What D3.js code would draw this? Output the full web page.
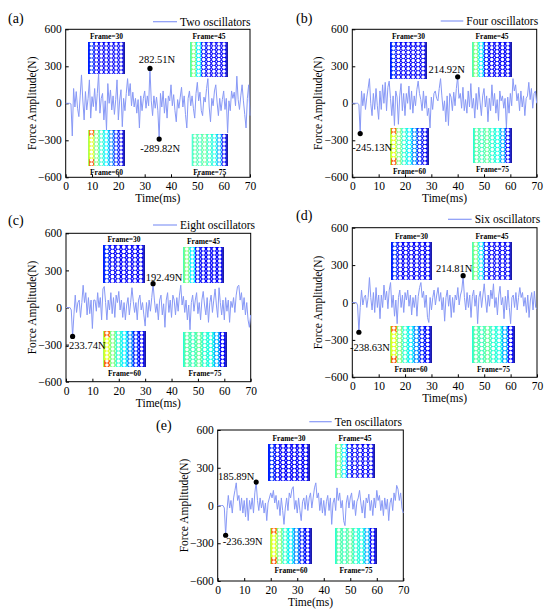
<!DOCTYPE html>
<html><head><meta charset="utf-8">
<script src="https://cdn.jsdelivr.net/npm/d3@7"></script>
<style>body{margin:0;background:#fff}svg{display:block}text{font-family:"Liberation Serif","Times New Roman",serif;fill:#000}</style>
</head><body><svg id="c" width="550" height="614"></svg>
<script>
// ---------- data ----------
const timeStep = 0.5; // ms between samples, t = 0 .. 70
const xTicks = [0,10,20,30,40,50,60,70];
const yTicks = [600,300,0,-300,-600];
const panelLabels = ["(a)","(b)","(c)","(d)","(e)"];
const seriesNames = ["Two oscillators","Four oscillators","Eight oscillators","Six oscillators","Ten oscillators"];

const twoOsc = [
 0,0,0,0,-5,-265,120,-30,95,-40,
 -108,60,230,27,-135,95,-54,40,190,-120,
 54,-27,120,-60,80,243,-80,40,80,-135,
 20,-216,160,0,108,-54,60,-90,30,190,
 -135,27,110,-190,40,-60,80,200,60,160,
 -20,90,-30,40,-80,30,-200,60,-60,40,
 100,-40,60,-20,282.51,20,-100,60,-40,50,
 -60,-289.82,80,-30,100,-80,40,-120,60,20,
 150,-20,70,-60,-150,30,-40,50,130,-30,
 60,-90,-200,40,100,-20,60,-40,-120,80,
 170,20,90,-60,-100,50,10,120,200,-30,
 -150,40,-20,100,150,10,-100,40,-60,30,
 100,-50,40,-240,20,-60,100,40,90,-20,
 220,30,-50,60,150,20,-90,-200,40,150,
 -100];
const fourOsc = [
 0,0,0,0,0,-10,-245.13,100,-20,80,
 -50,50,120,200,0,-100,80,-50,120,-20,
 -130,100,-50,150,0,170,-60,130,180,40,
 -100,60,-180,100,50,-170,60,160,-60,80,
 -100,80,0,140,-50,100,-80,60,-20,110,
 180,80,30,-60,100,-40,60,-100,-40,-200,
 50,-50,80,100,40,20,120,200,60,-60,
 20,-150,60,-180,80,50,-60,90,-20,120,
 214.92,40,80,-40,130,-60,30,-80,100,-30,
 160,-40,40,-120,80,-50,130,10,-100,60,
 120,-30,60,-150,40,-60,150,-20,80,-80,
 30,-140,100,20,60,-40,40,-200,50,-80,
 80,-20,200,100,150,20,80,-60,100,-30,
 60,-100,40,60,170,30,120,-40,80,100,
 0];
const eightOsc = [
 0,0,0,0,-20,-233.74,-60,100,-40,40,
 60,-80,40,180,40,120,-60,80,-50,60,
 -170,60,60,-30,120,0,80,-100,150,170,
 40,-100,60,-20,120,-50,80,-80,100,40,
 130,-20,60,-80,40,-100,20,80,-60,40,
 160,50,-40,40,-100,60,100,-20,40,-60,
 -150,40,-80,60,-30,80,192.49,60,-40,30,
 -100,60,100,-60,30,-160,60,120,-40,60,
 -80,100,60,-60,80,-30,100,180,20,90,
 -40,60,-100,20,-180,40,100,-30,60,120,
 -50,40,-100,60,130,20,-60,80,-120,40,
 100,-40,60,150,20,-80,160,40,-60,60,
 -100,80,-30,60,-120,50,0,80,-40,100,
 170,180,60,120,-20,80,-60,40,-100,-160,
 -60];
const sixOsc = [
 0,0,0,0,-20,-238.63,-40,100,-20,40,
 60,-40,40,200,40,-60,80,-80,120,-40,
 60,-130,60,-40,140,20,90,-50,100,160,
 -40,60,-110,20,-170,40,100,-40,60,-80,
 80,20,100,-30,60,-100,40,-40,60,-110,
 50,120,160,40,90,-40,60,-120,-160,40,
 -60,40,100,-20,60,120,10,80,-60,40,
 -150,40,100,-30,60,-120,40,-80,60,20,
 120,-20,60,100,214.81,40,-60,80,-40,60,
 -120,50,100,-30,60,-170,40,90,-40,60,
 150,20,-80,60,-30,100,30,150,-40,40,
 -100,60,130,-20,40,-130,50,-60,100,-40,
 -170,40,60,-40,80,-60,40,120,40,80,
 -30,40,-80,60,-120,20,80,-60,90,-40,
 -50];
const tenOsc = [
 0,0,0,0,0,-20,-236.39,-40,80,-20,
 40,-60,60,120,180,40,80,-40,60,-60,
 40,-90,60,-120,40,-30,60,-60,100,185.89,
 40,-40,60,-20,40,-60,20,-120,20,60,
 100,60,120,20,80,-30,40,-80,60,-40,
 -150,-20,60,-40,100,60,130,150,-30,40,
 -60,60,-40,-120,30,60,-30,80,-40,60,
 100,-20,60,140,180,60,100,-40,60,-60,
 40,-80,30,80,-40,60,-150,20,60,-40,
 140,40,100,-20,40,-120,-160,20,80,-20,
 60,100,-30,40,-80,30,60,120,20,-60,
 40,-100,60,20,90,-40,40,-80,60,-20,
 120,40,80,-40,40,-80,60,-30,50,-120,
 20,60,-40,100,40,160,130,40,100,-20,
 -60];
const allSeries = [twoOsc, fourOsc, eightOsc, sixOsc, tenOsc];

// labelled extremes [time(ms), force(N)]
const peakMax = [[32,282.51],[40,214.92],[33,192.49],[42,214.81],[14.5,185.89]];
const peakMin = [[35.5,-289.82],[3,-245.13],[2.5,-233.74],[2.5,-238.63],[3,-236.39]];

// inset snapshots: stress level per lattice column (0 = low, 1 = high)
const frameNames = ["Frame=30","Frame=45","Frame=60","Frame=75"];
const frame30Levels = [0.17,0.12,0.12,0.12,0.12,0.12,0.12];
const frame45Levels = [0.5,0.36,0.15,0.12,0.12,0.12,0.12];
const frame60Levels = [0.6,0.5,0.42,0.36,0.26,0.16,0.12];
const frame75Levels = [0.46,0.44,0.47,0.42,0.4,0.3,0.13];
const frameLevels = [frame30Levels, frame45Levels, frame60Levels, frame75Levels];

// ---------- layout ----------
const layout = [
 {plot:[65.7,29.3,250,177.3], tag:[8,23], leg:[153,177,21.7],
  frames:[[88,42,37,32],[190,42,38,35],[88,130,37,36],[191.5,134,36.5,32]],
  maxOff:[7,-5,"middle"], minOff:[1,13,"middle"]},
 {plot:[352.3,29.3,536.7,177.3], tag:[296,23], leg:[440.7,463.3,21],
  frames:[[390,42,37,37],[472,42,40,35],[390,128,39,37],[473,128,39,35]],
  maxOff:[-11,-4,"middle"], minOff:[12,17,"middle"]},
 {plot:[66,233.3,250.7,381.7], tag:[8,225], leg:[153,177,225],
  frames:[[103,245,42,38],[183,247,41,36],[103,331,43,36],[183,332,44,35]],
  maxOff:[11,-3,"middle"], minOff:[13,13,"middle"]},
 {plot:[352.3,227.7,537,377.3], tag:[296,220], leg:[448,471.7,219.3],
  frames:[[391,242,41,38],[472,242,40,38],[390,326,42,37],[472,326,43,37]],
  maxOff:[-9,-4,"middle"], minOff:[11,19,"middle"]},
 {plot:[217.7,430,403.3,581], tag:[156,430], leg:[309.3,331.7,421.7],
  frames:[[268,444,42,37],[335,444,40,34],[270,528,42,36],[335,528,42,36]],
  maxOff:[-20,-2,"middle"], minOff:[17,10,"middle"]}
];

const lineColor = "#8899f6";
const svg = d3.select("#c");

function jet(v){
  const c = x => Math.max(0, Math.min(1, x));
  return d3.rgb(255*c(1.5-Math.abs(4*v-3)), 255*c(1.5-Math.abs(4*v-2)), 255*c(1.5-Math.abs(4*v-1))).toString();
}

let clipId = 0;
function drawLattice(g, box, levels, hot){
  const [x, y, w, h] = box;
  const n = levels.length, cw = (w - 2.5)/n;
  const nr = Math.round(h/4.1), rh = h/nr;
  const id = "clip" + (clipId++);
  g.append("clipPath").attr("id", id).append("rect").attr("x", x).attr("y", y).attr("width", w).attr("height", h);
  const lg = g.append("g").attr("clip-path", `url(#${id})`);
  lg.append("rect").attr("x", x).attr("y", y).attr("width", w).attr("height", h).attr("fill", "#fff");
  lg.selectAll("rect.col").data(levels).join("rect")
    .attr("x", (d,i) => x + 1 + i*cw).attr("y", y).attr("width", cw + 0.3).attr("height", h)
    .attr("fill", d => jet(d));
  if (hot){
    lg.append("rect").attr("x", x + 1).attr("y", y).attr("width", cw).attr("height", rh*1.5).attr("fill", jet(0.78));
    lg.append("rect").attr("x", x + 1).attr("y", y + h - rh*1.7).attr("width", cw).attr("height", rh*1.7).attr("fill", jet(0.8));
  }
  // dark edge bars
  lg.append("rect").attr("x", x).attr("y", y).attr("width", 1.2).attr("height", h).attr("fill", jet(levels[0]*0.9));
  lg.append("rect").attr("x", x + w - 1.6).attr("y", y).attr("width", 1.6).attr("height", h).attr("fill", "#1a1aa8");
  const holes = [], small = [];
  for (let i = 0; i < n; i++) for (let j = 0; j < nr; j++){
    holes.push([x + 1 + (i+0.5)*cw, y + (j+0.5)*rh]);
    if (i < n-1) small.push([x + 1 + (i+1)*cw, y + (j+0.5)*rh + rh/2]);
  }
  const r = Math.min(cw*0.36, rh*0.44);
  lg.selectAll("circle.h").data(holes).join("circle").attr("cx", d => d[0]).attr("cy", d => d[1]).attr("r", r).attr("fill", "#fff");
  lg.selectAll("circle.s").data(small).join("circle").attr("cx", d => d[0]).attr("cy", d => d[1]).attr("r", r*0.4).attr("fill", "#fff");
}

layout.forEach((L, p) => {
  const [x0, y0, x1, y1] = L.plot;
  const xs = d3.scaleLinear().domain([0, 70]).range([x0, x1]);
  const ys = d3.scaleLinear().domain([-600, 600]).range([y1, y0]);
  const g = svg.append("g");
  const data = allSeries[p].map((v, i) => [i*timeStep, v]);

  // axes
  g.append("g").attr("transform", `translate(0,${y1})`)
    .call(d3.axisBottom(xs).tickValues(xTicks).tickSize(-3).tickPadding(5).tickFormat(d3.format("d")))
    .call(a => { a.select(".domain").remove(); a.selectAll("text").attr("font-size", 11.5); });
  g.append("g").attr("transform", `translate(${x0},0)`)
    .call(d3.axisLeft(ys).tickValues(yTicks).tickSize(-3).tickPadding(4).tickFormat(d => d < 0 ? "\u2212" + Math.abs(d) : d))
    .call(a => { a.select(".domain").remove(); a.selectAll("text").attr("font-size", 11.5); });
  g.append("rect").attr("x", x0).attr("y", y0).attr("width", x1 - x0).attr("height", y1 - y0)
    .attr("fill", "none").attr("stroke", "#000").attr("stroke-width", 1);

  // titles
  g.append("text").attr("x", (x0 + x1)/2).attr("y", y1 + 25).attr("text-anchor", "middle").attr("font-size", 11.5).text("Time(ms)");
  g.append("text").attr("transform", `translate(${x0 - 30},${(y0 + y1)/2}) rotate(-90)`).attr("text-anchor", "middle")
    .attr("font-size", 11.5).text("Force Amplitude(N)");
  g.append("text").attr("x", L.tag[0]).attr("y", L.tag[1]).attr("font-size", 14).text(panelLabels[p]);

  // legend
  g.append("line").attr("x1", L.leg[0]).attr("x2", L.leg[1]).attr("y1", L.leg[2]).attr("y2", L.leg[2])
    .attr("stroke", lineColor).attr("stroke-width", 1.2);
  g.append("text").attr("x", L.leg[1] + 3).attr("y", L.leg[2] + 4).attr("font-size", 11.5).text(seriesNames[p]);

  // series line
  g.append("path").datum(data)
    .attr("d", d3.line().x(d => xs(d[0])).y(d => ys(d[1])))
    .attr("fill", "none").attr("stroke", lineColor).attr("stroke-width", 1).attr("stroke-linejoin", "round");

  // insets
  L.frames.forEach((b, k) => {
    drawLattice(g, b, frameLevels[k], k === 2);
    const top = k < 2;
    g.append("text").attr("x", b[0] + b[2]/2).attr("y", top ? b[1] - 3 : b[1] + b[3] + 8.5)
      .attr("text-anchor", "middle").attr("font-size", 7.5).attr("font-weight", "bold").text(frameNames[k]);
  });

  // extremes
  [[peakMax[p], L.maxOff], [peakMin[p], L.minOff]].forEach(([pt, off]) => {
    const cx = xs(pt[0]), cy = ys(pt[1]);
    g.append("circle").attr("cx", cx).attr("cy", cy).attr("r", 2.6).attr("fill", "#000");
    g.append("text").attr("x", cx + off[0]).attr("y", cy + off[1]).attr("text-anchor", off[2])
      .attr("font-size", 10.5).text(pt[1].toFixed(2) + "N");
  });
});
</script></body></html>
